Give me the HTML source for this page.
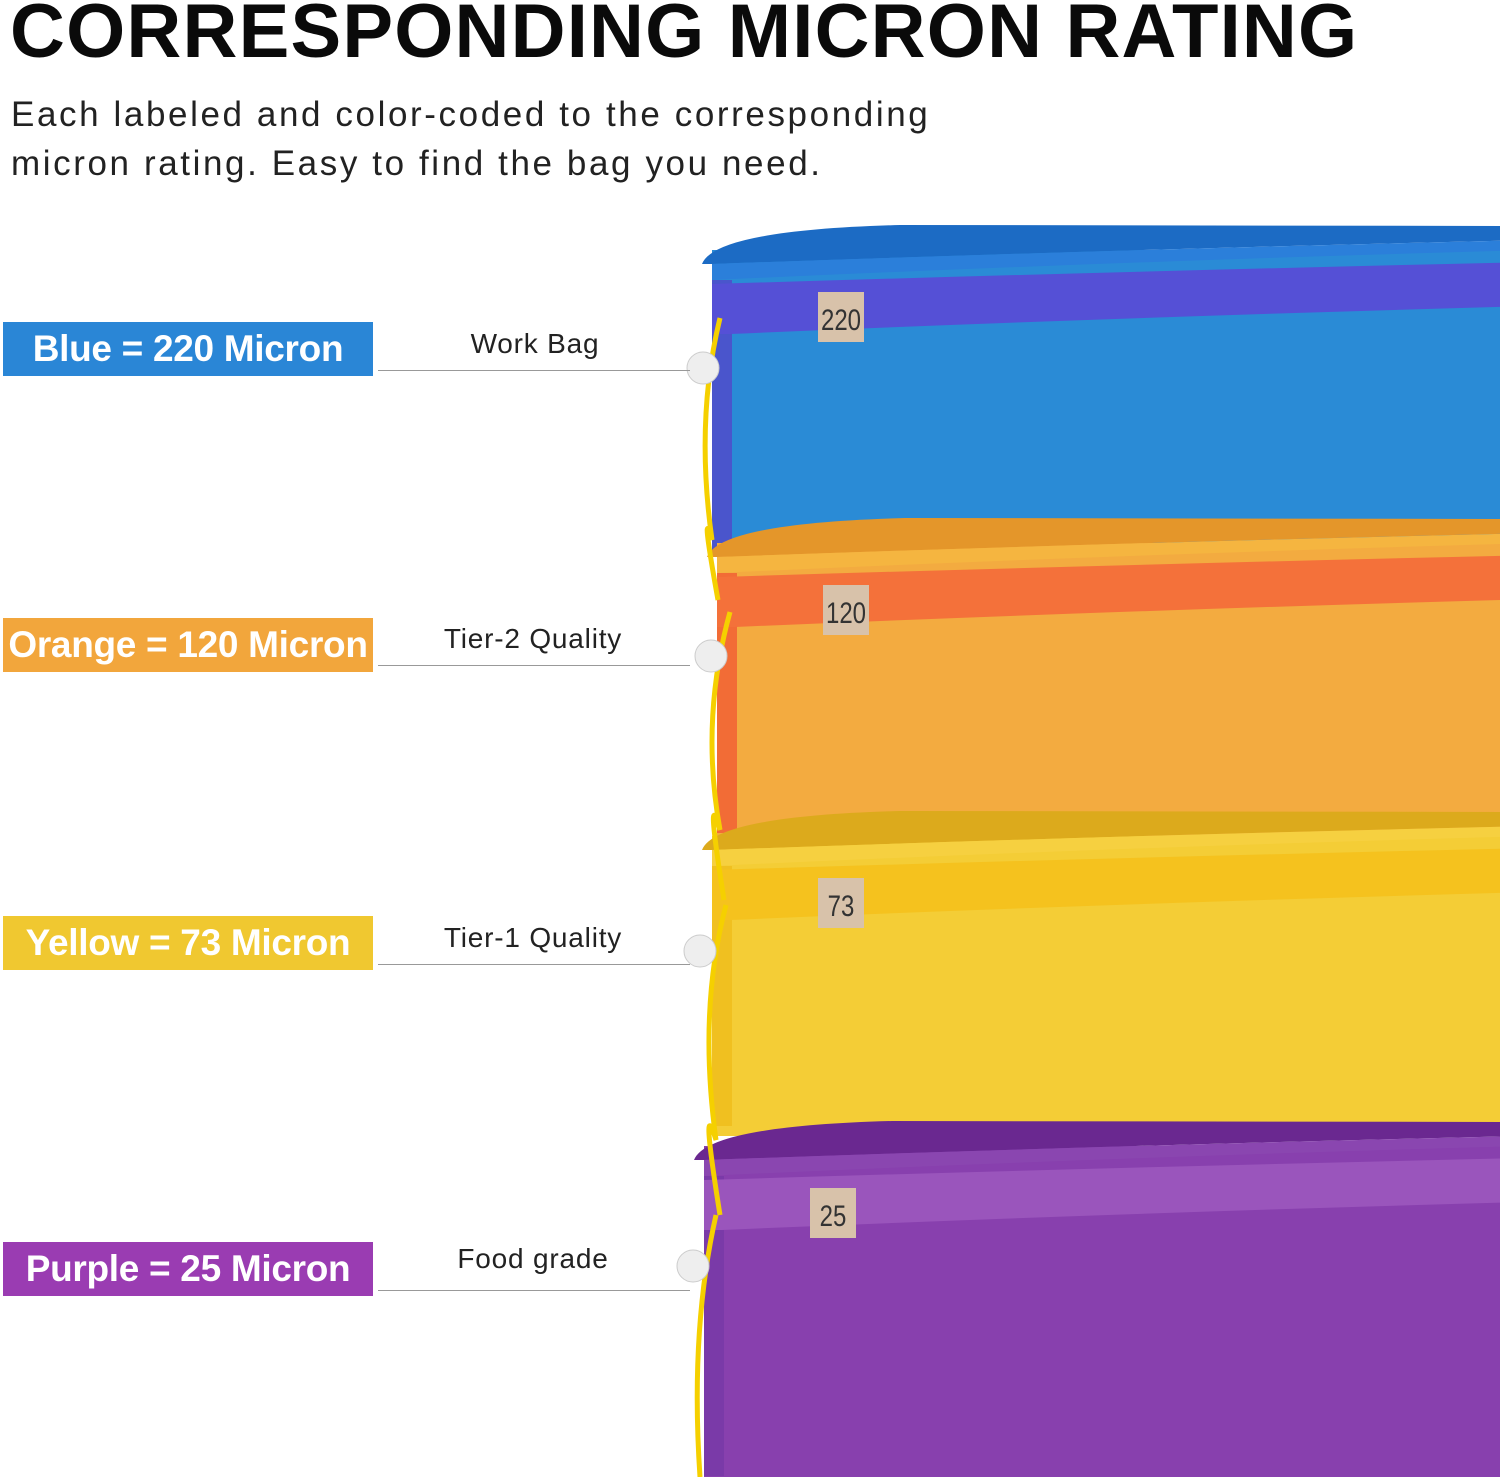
<!DOCTYPE html>
<html><head><style>
body{margin:0;width:1500px;height:1477px;background:#fff;overflow:hidden;position:relative;font-family:"Liberation Sans",sans-serif}
.t{position:absolute;left:10px;top:-12px;font-size:76px;font-weight:bold;color:#0a0a0a;letter-spacing:1.2px;white-space:nowrap}
.s{position:absolute;left:11px;top:90px;font-size:35px;line-height:49px;color:#222;letter-spacing:2.6px;white-space:nowrap}
.lb{position:absolute;left:3px;width:370px;height:54px;color:#fff;font-weight:bold;font-size:37px;line-height:54px;text-align:center;white-space:nowrap;letter-spacing:-0.3px}
.ln{position:absolute;left:378px;width:312px;height:1px;background:#999}
.cap{position:absolute;left:378px;width:310px;text-align:center;font-size:28px;color:#222;letter-spacing:0.8px}
svg{position:absolute;left:0;top:0}
</style></head><body>
<svg width="1500" height="1477">
<g>
<rect x="712" y="250" width="820" height="300" fill="#2a8bd6"/>
<rect x="712" y="280" width="20" height="270" fill="#4a55cc"/>
<path d="M702,264 Q715,230 900,225 L1530,226 L1530,240 Q1100,250 712,264 Z" fill="#1c6bc4"/>
<path d="M712,264 Q1100,250 1530,240 L1530,250 Q1100,262 712,280 Z" fill="#2b7fda"/>
<path d="M712,284 Q1100,272 1530,262 L1530,306 Q1100,318 730,334 L712,334 Z" fill="#5550d6"/>
<rect x="818" y="292" width="46" height="50" fill="#d8c2aa"/><text x="841" y="330" font-size="30" text-anchor="middle" fill="#333" transform="translate(841,0) scale(0.8,1) translate(-841,0)">220</text>
</g>
<g transform="translate(5,293)">
<rect x="712" y="250" width="820" height="300" fill="#f3ab40"/>
<rect x="712" y="280" width="20" height="260" fill="#f26c36"/>
<path d="M702,264 Q715,230 900,225 L1530,226 L1530,240 Q1100,250 712,264 Z" fill="#e4962a"/>
<path d="M712,264 Q1100,250 1530,240 L1530,250 Q1100,262 712,280 Z" fill="#f5b540"/>
<path d="M712,284 Q1100,272 1530,262 L1530,306 Q1100,318 730,334 L712,334 Z" fill="#f4713a"/>
<rect x="818" y="292" width="46" height="50" fill="#d8c2aa"/><text x="841" y="330" font-size="30" text-anchor="middle" fill="#333" transform="translate(841,0) scale(0.8,1) translate(-841,0)">120</text>
</g>
<g transform="translate(0,586)">
<rect x="712" y="250" width="820" height="300" fill="#f4cd36"/>
<rect x="712" y="280" width="20" height="260" fill="#f0c020"/>
<path d="M702,264 Q715,230 900,225 L1530,226 L1530,240 Q1100,250 712,264 Z" fill="#dcaa1c"/>
<path d="M712,264 Q1100,250 1530,240 L1530,250 Q1100,262 712,280 Z" fill="#f6d040"/>
<path d="M712,284 Q1100,272 1530,262 L1530,306 Q1100,318 730,334 L712,334 Z" fill="#f5c21e"/>
<rect x="818" y="292" width="46" height="50" fill="#d8c2aa"/><text x="841" y="330" font-size="30" text-anchor="middle" fill="#333" transform="translate(841,0) scale(0.8,1) translate(-841,0)">73</text>
</g>
<g transform="translate(-8,896)">
<rect x="712" y="250" width="820" height="340" fill="#8840ae"/>
<rect x="712" y="280" width="20" height="300" fill="#7a3aa8"/>
<path d="M702,264 Q715,230 900,225 L1530,226 L1530,240 Q1100,250 712,264 Z" fill="#6a2890"/>
<path d="M712,264 Q1100,250 1530,240 L1530,250 Q1100,262 712,280 Z" fill="#8a46b0"/>
<path d="M712,284 Q1100,272 1530,262 L1530,306 Q1100,318 730,334 L712,334 Z" fill="#9a55bc"/>
<rect x="818" y="292" width="46" height="50" fill="#d8c2aa"/><text x="841" y="330" font-size="30" text-anchor="middle" fill="#333" transform="translate(841,0) scale(0.8,1) translate(-841,0)">25</text>
</g>
<g fill="none" stroke="#f5d000" stroke-width="5">
<path d="M720,318 Q695,420 712,540 Q700,500 718,600"/>
<path d="M730,612 Q700,720 720,830 Q705,780 724,900"/>
<path d="M726,905 Q698,1010 716,1140 Q700,1090 720,1215"/>
<path d="M716,1215 Q690,1330 700,1477"/>
</g>
<g fill="#eeeeee" stroke="#ccc" stroke-width="1">
<circle cx="703" cy="368" r="16"/><circle cx="711" cy="656" r="16"/><circle cx="700" cy="951" r="16"/><circle cx="693" cy="1266" r="16"/>
</g>
</svg>
<div class="t">CORRESPONDING MICRON RATING</div>
<div class="s">Each labeled and color-coded to the corresponding<br>micron rating. Easy to find the bag you need.</div>
<div class="lb" style="top:322px;background:#2a86d6">Blue = 220 Micron</div>
<div class="lb" style="top:618px;background:#f2a63c">Orange = 120 Micron</div>
<div class="lb" style="top:916px;background:#f0c830">Yellow = 73 Micron</div>
<div class="lb" style="top:1242px;background:#9a3cb2">Purple = 25 Micron</div>
<div class="ln" style="top:370px"></div><div class="ln" style="top:665px"></div><div class="ln" style="top:964px"></div><div class="ln" style="top:1290px"></div>
<div class="cap" style="top:328px;left:380px">Work Bag</div>
<div class="cap" style="top:623px">Tier-2 Quality</div>
<div class="cap" style="top:922px">Tier-1 Quality</div>
<div class="cap" style="top:1243px">Food grade</div>
</body></html>
